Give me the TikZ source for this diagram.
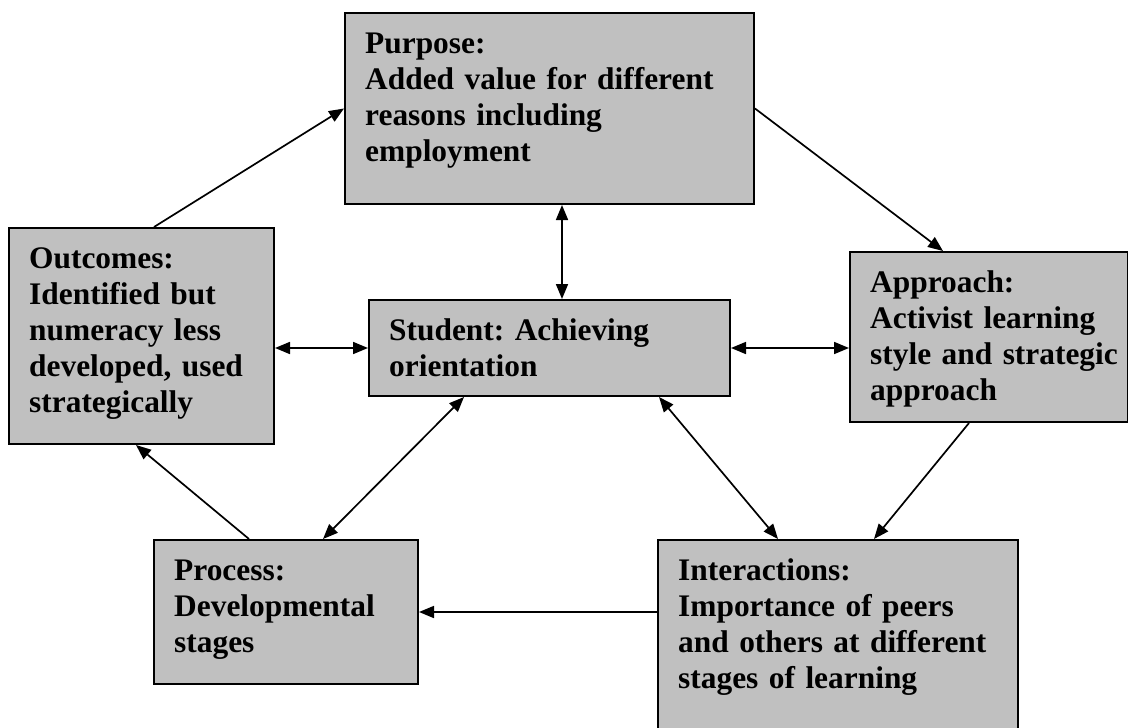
\documentclass[tikz,border=0pt]{standalone}
\usepackage{xcolor}
\definecolor{boxgrey}{RGB}{192,192,192}
\usepackage{fontspec}
\setmainfont{Liberation Serif}
\usepackage{tikz}
\usetikzlibrary{arrows.meta}
\newcommand{\boxfont}{\bfseries\fontsize{31.4}{36}\selectfont\frenchspacing}
\newcommand{\insetx}{21}
\newcommand{\insety}{41}
\tikzset{
    >={Triangle[length=15pt, width=12pt]},
    box/.style={draw, line width=2pt, fill=boxgrey, rectangle, anchor=north west, inner sep=0pt},
    boxtext/.style={anchor=base west, inner sep=0pt, align=left, text width=#1, font=\boxfont},
    link/.style={->, line width=1.7pt},
    twoway/.style={<->, line width=1.7pt}
}
\begin{document}
\begin{tikzpicture}[x=1pt, y=-1pt]
    \useasboundingbox (0,0) rectangle (1128,728);

    % boxes
    \node[box, minimum width=409pt, minimum height=191pt] (purpose) at (344,12) {};
    \node[box, minimum width=265pt, minimum height=216pt] (outcomes) at (8,227) {};
    \node[box, minimum width=361pt, minimum height=96pt] (student) at (368,299) {};
    \node[box, minimum width=278pt, minimum height=170pt] (approach) at (849,251) {};
    \node[box, minimum width=264pt, minimum height=144pt] (process) at (153,539) {};
    \node[box, minimum width=360pt, minimum height=200pt] (interactions) at (657,539) {};

    % texts
    \node[boxtext=380pt] (purpose-text) at ([shift={(\insetx,\insety)}]purpose.north west)
        {Purpose:\\ Added value for different\\ reasons including\\ employment};
    \node[boxtext=240pt] (outcomes-text) at ([shift={(\insetx,\insety)}]outcomes.north west)
        {Outcomes:\\ Identified but\\ numeracy less\\ developed, used\\ strategically};
    \node[boxtext=335pt] (student-text) at ([shift={(\insetx,\insety)}]student.north west)
        {Student: Achieving\\ orientation};
    \node[boxtext=255pt] (approach-text) at ([shift={(\insetx,\insety)}]approach.north west)
        {Approach:\\ Activist learning\\ style and strategic\\ approach};
    \node[boxtext=240pt] (process-text) at ([shift={(\insetx,\insety)}]process.north west)
        {Process:\\ Developmental\\ stages};
    \node[boxtext=335pt] (interactions-text) at ([shift={(\insetx,\insety)}]interactions.north west)
        {Interactions:\\ Importance of peers\\ and others at different\\ stages of learning};

    % connectors
    \draw[link] ([xshift=12.5pt]outcomes.north) -- (purpose.west);
    \draw[link] (purpose.east) -- ([xshift=-46pt]approach.north);
    \draw[twoway] ([xshift=12.5pt]purpose.south) -- ([xshift=12.5pt]student.north);
    \draw[twoway] (student.west -| outcomes.east) -- (student.west);
    \draw[twoway] (student.east) -- (student.east -| approach.west);
    \draw[twoway] ([xshift=-85.5pt]student.south) -- ([xshift=37pt]process.north);
    \draw[twoway] ([xshift=109.5pt]student.south) -- ([xshift=-60pt]interactions.north);
    \draw[link] ([xshift=-20pt]approach.south) -- ([xshift=36pt]interactions.north);
    \draw[link] (interactions.west |- process.east) -- (process.east);
    \draw[link] ([xshift=-37pt]process.north) -- ([xshift=-5.5pt]outcomes.south);
\end{tikzpicture}
\end{document}
